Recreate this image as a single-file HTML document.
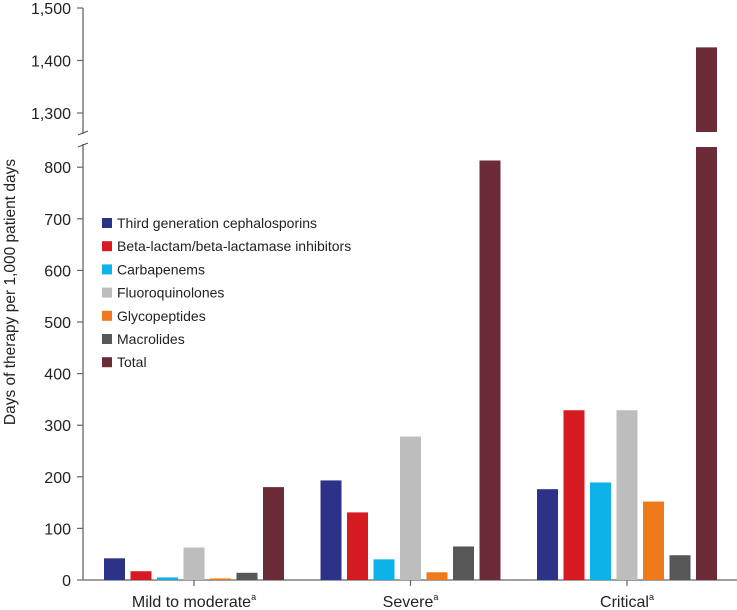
<!DOCTYPE html>
<html><head><meta charset="utf-8"><style>
body{margin:0;background:#fff}
svg{display:block;font-family:"Liberation Sans",Arial,sans-serif}
</style></head><body>
<svg id="chart" width="737" height="610" viewBox="0 0 737 610"></svg>
<script>
const categories = ["Mild to moderate", "Severe", "Critical"];
const seriesNames = ["Third generation cephalosporins","Beta-lactam/beta-lactamase inhibitors","Carbapenems","Fluoroquinolones","Glycopeptides","Macrolides","Total"];
const seriesColors = ["#2b3288","#d51a21","#0db2e8","#bdbdbd","#ef7a1b","#575757","#6b2c38"];
const thirdGen = [42, 193, 176];
const betaLactam = [17, 131, 329];
const carbapenems = [5, 40, 189];
const fluoroquinolones = [63, 278, 329];
const glycopeptides = [3, 15, 152];
const macrolides = [14, 65, 48];
const total = [180, 813, 1425];
const lowerTicks = [0,100,200,300,400,500,600,700,800];
const upperTicks = [1300,1400,1500];
const series = [thirdGen, betaLactam, carbapenems, fluoroquinolones, glycopeptides, macrolides, total];

const NS = "http://www.w3.org/2000/svg";
const svg = document.getElementById('chart');
function mk(tag, attrs, parent){const e=document.createElementNS(NS,tag);for(const k in attrs)e.setAttribute(k,attrs[k]);(parent||svg).appendChild(e);return e;}
const axX = 83;
const lowerY = v => 580 - v*0.516;
const upperY = v => 113 - (v-1300)*0.525;
const lowerTop = 147, upperBottom = 132, lowerMax = (580-lowerTop)/0.516;
const groupX = i => 104 + i*216.5;
const barW = 21, barStep = 26.5;

let ax = mk('line',{x1:axX,y1:8,x2:axX,y2:upperBottom+2,stroke:'#666','stroke-width':1.3});


ax = mk('line',{x1:axX,y1:lowerTop-3,x2:axX,y2:580,stroke:'#666','stroke-width':1.3});


[upperBottom+1, lowerTop-2].forEach(y=>{const b=mk('line',{x1:axX-5,y1:y+2,x2:axX+5,y2:y-2,stroke:'#555','stroke-width':1.2});

});
let xa = mk('line',{x1:axX,y1:580,x2:737,y2:580,stroke:'#666','stroke-width':1.3});



function tick(v,y){
  const t=mk('line',{x1:axX-6,y1:y,x2:axX,y2:y,stroke:'#666','stroke-width':1.2});
  
  
  const l=mk('text',{x:axX-12,y:y+6,'text-anchor':'end','font-size':16,fill:'#222'});
  l.textContent=v.toLocaleString('en-US');
  
  
}
lowerTicks.forEach(v=>tick(v,lowerY(v)));
upperTicks.forEach(v=>tick(v,upperY(v)));

const yt=mk('text',{x:0,y:0,transform:'translate(15,292) rotate(-90)','text-anchor':'middle','font-size':15.5,fill:'#222'});
yt.textContent='Days of therapy per 1,000 patient days';



categories.forEach((c,i)=>{
  const cx = groupX(i) + 3*barStep + barW/2;
  const t=mk('line',{x1:cx,y1:580,x2:cx,y2:586,stroke:'#666','stroke-width':1.2});
  
  
  const l=mk('text',{x:cx,y:607,'text-anchor':'middle','font-size':16,fill:'#222'});
  l.textContent=c;
  const s=mk('tspan',{'font-size':9,dy:-7},l);s.textContent='a';
  
  
  series.forEach((arr,si)=>{
    const v=arr[i], x=groupX(i)+si*barStep;
    if(v<=lowerMax){
      const r=mk('rect',{x:x,y:lowerY(v),width:barW,height:580-lowerY(v),fill:seriesColors[si]});
      
      
    } else {
      const r=mk('rect',{x:x,y:lowerTop,width:barW,height:580-lowerTop,fill:seriesColors[si]});
      
      
      const r2=mk('rect',{x:x,y:upperY(v),width:barW,height:upperBottom-upperY(v),fill:seriesColors[si]});
      
      
    }
  });
});

seriesNames.forEach((n,i)=>{
  const y=218+i*23.2;
  const g=mk('g',{});
  
  
  mk('rect',{x:102,y:y,width:10,height:10,fill:seriesColors[i]},g);
  const t=mk('text',{x:117,y:y+10,'font-size':14,fill:'#222'},g);
  t.textContent=n;
});
</script>
</body></html>
